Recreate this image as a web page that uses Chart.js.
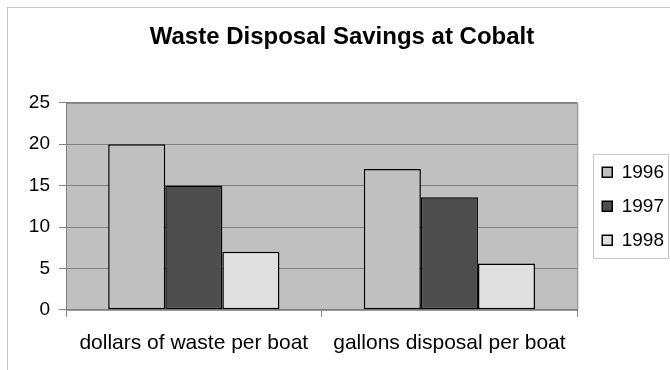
<!DOCTYPE html>
<html>
<head>
<meta charset="utf-8">
<script src="https://cdn.jsdelivr.net/npm/chart.js@4/dist/chart.umd.min.js"></script>
<style>
  html, body { margin: 0; padding: 0; background: #fff; }
  #wrap { width: 670px; height: 370px; }
</style>
</head>
<body>
<div id="wrap"><canvas id="wasteChart" width="670" height="370"></canvas></div>
<script>
// Chart data
const categories = ['dollars of waste per boat', 'gallons disposal per boat'];
const seriesNames = ['1996', '1997', '1998'];
const values1996 = [20, 17];
const values1997 = [15, 13.6];
const values1998 = [7, 5.6];
const yTicks = [0, 5, 10, 15, 20, 25];

const seriesValues = [values1996, values1997, values1998];
const seriesColors = ['#c0c0c0', '#4d4d4d', '#e0e0e0'];
const fontFamily = '"Liberation Sans", Arial, sans-serif';

// Outer frame, plot background and legend box
const framePlugin = {
    id: 'frame',
    beforeDraw(chart) {
        const ctx = chart.ctx;
        const area = chart.chartArea;
        ctx.save();
        ctx.fillStyle = '#fff';
        ctx.fillRect(0, 0, chart.width, chart.height);
        ctx.strokeStyle = '#c8c8c8';
        ctx.lineWidth = 1;
        ctx.strokeRect(7.5, 7.5, chart.width + 10, chart.height + 10);
        ctx.fillStyle = '#c0c0c0';
        ctx.fillRect(area.left, area.top, area.right - area.left, area.bottom - area.top);
        ctx.strokeStyle = '#808080';
        ctx.strokeRect(area.left + 0.5, area.top + 0.5, area.right - area.left, area.bottom - area.top);
        ctx.restore();
    },
    afterLayout(chart) {
        // nudge legend items right, away from the plot
        chart.legend.left += 10;
        chart.legend.right += 10;
    },
    afterDraw(chart) {
        const boxes = chart.legend.legendHitBoxes;
        if (!boxes || !boxes.length) return;
        const first = boxes[0];
        const last = boxes[boxes.length - 1];
        const ctx = chart.ctx;
        ctx.save();
        ctx.strokeStyle = '#c8c8c8';
        ctx.lineWidth = 1;
        const left = Math.round(first.left - 9) + 0.5;
        const top = Math.round(first.top - 9) + 0.5;
        const bottom = Math.round(last.top + last.height + 8) + 0.5;
        ctx.strokeRect(left, top, 75, bottom - top);
        ctx.restore();
    }
};

const ctx = document.getElementById('wasteChart').getContext('2d');
new Chart(ctx, {
    type: 'bar',
    data: {
        labels: categories,
        datasets: seriesNames.map((name, i) => ({
            label: name,
            data: seriesValues[i],
            backgroundColor: seriesColors[i],
            borderColor: '#000',
            borderWidth: 1.5,
            borderSkipped: false,
            categoryPercentage: 0.67,
            barPercentage: 1.0
        }))
    },
    options: {
        responsive: false,
        animation: false,
        layout: {
            padding: { left: 20, right: 6, top: 0, bottom: 0 }
        },
        plugins: {
            title: {
                display: true,
                text: 'Waste Disposal Savings at Cobalt',
                color: '#000',
                font: { family: fontFamily, size: 24, weight: 'bold' },
                padding: { top: 23, bottom: 51 }
            },
            legend: {
                position: 'right',
                fullSize: false,
                labels: {
                    color: '#000',
                    font: { family: fontFamily, size: 19 },
                    boxWidth: 10,
                    boxHeight: 10,
                    padding: 15
                }
            },
            tooltip: { enabled: false }
        },
        scales: {
            x: {
                grid: {
                    drawOnChartArea: false,
                    drawTicks: true,
                    tickLength: 7,
                    color: '#808080'
                },
                border: { display: true, color: '#808080' },
                ticks: {
                    color: '#000',
                    padding: 14,
                    maxRotation: 0,
                    font: { family: fontFamily, size: 21 }
                }
            },
            y: {
                min: yTicks[0],
                max: yTicks[yTicks.length - 1],
                afterFit(scale) { scale.width = 46; },
                afterBuildTicks(scale) {
                    scale.ticks = yTicks.map(v => ({ value: v }));
                },
                grid: {
                    color: '#808080',
                    tickLength: 7,
                    tickColor: '#808080'
                },
                border: { display: true, color: '#808080' },
                ticks: {
                    color: '#000',
                    padding: 9,
                    font: { family: fontFamily, size: 19 }
                }
            }
        }
    },
    plugins: [framePlugin]
});
</script>
</body>
</html>
